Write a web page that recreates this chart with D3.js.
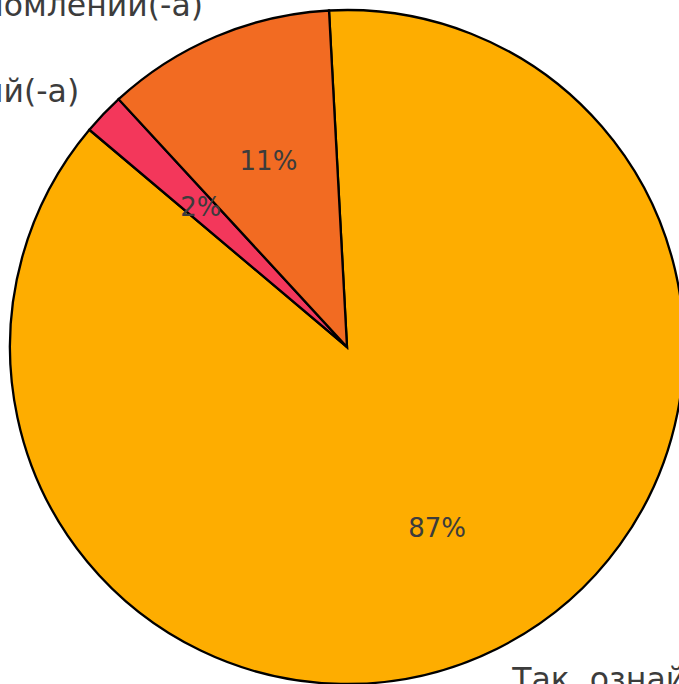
<!DOCTYPE html>
<html><head><meta charset="utf-8">
<script src="https://cdn.jsdelivr.net/npm/d3@7/dist/d3.min.js"></script>
<style>html,body{margin:0;padding:0;background:#fff;overflow:hidden}</style>
</head><body>
<svg id="chart" width="679" height="684"></svg>
<script>
const categories = ["Так, ознайомлений(-а)", "Не впевнений(-а)", "Ні, не ознайомлений(-а)"];
const values = [87, 2, 11];
const colors = ["#FEAD00", "#F3375B", "#F26B22"];

const svg = d3.select("#chart");
const cx = 347, cy = 347, r = 337;
const g = svg.append("g").attr("transform", `translate(${cx},${cy})`);

const start = -3.06 * Math.PI / 180;
const pie = d3.pie().sort(null).value(d => d.v).startAngle(start).endAngle(start + 2 * Math.PI);
const data = categories.map((c, i) => ({c, v: values[i], col: colors[i]}));
const arcs = pie(data);
const arc = d3.arc().innerRadius(0).outerRadius(r);

g.selectAll("path.slice").data(arcs).join("path")
  .attr("class", "slice")
  .attr("d", arc)
  .attr("fill", d => d.data.col)
  .attr("stroke", "#000")
  .attr("stroke-width", 2.3)
  .attr("stroke-linejoin", "miter");

const total = d3.sum(values);
const mid = d => (d.startAngle + d.endAngle) / 2;

g.selectAll("text.pct").data(arcs).join("text")
  .attr("class", "pct")
  .attr("x", d => 0.6 * r * Math.sin(mid(d)))
  .attr("y", d => -0.6 * r * Math.cos(mid(d)))
  .attr("text-anchor", "middle")
  .attr("dominant-baseline", "central")
  .attr("font-family", "DejaVu Sans")
  .attr("font-size", 26)
  .attr("fill", "#3c3c3c")
  .text(d => Math.round(d.data.v / total * 100) + "%");

g.selectAll("text.lbl").data(arcs).join("text")
  .attr("class", "lbl")
  .attr("x", d => 1.1 * r * Math.sin(mid(d)))
  .attr("y", d => -1.1 * r * Math.cos(mid(d)))
  .attr("text-anchor", d => Math.sin(mid(d)) >= 0 ? "start" : "end")
  .attr("dominant-baseline", "central")
  .attr("font-family", "DejaVu Sans")
  .attr("font-size", 31.5)
  .attr("fill", "#3c3c3c")
  .text(d => d.data.c);
</script>
</body></html>
